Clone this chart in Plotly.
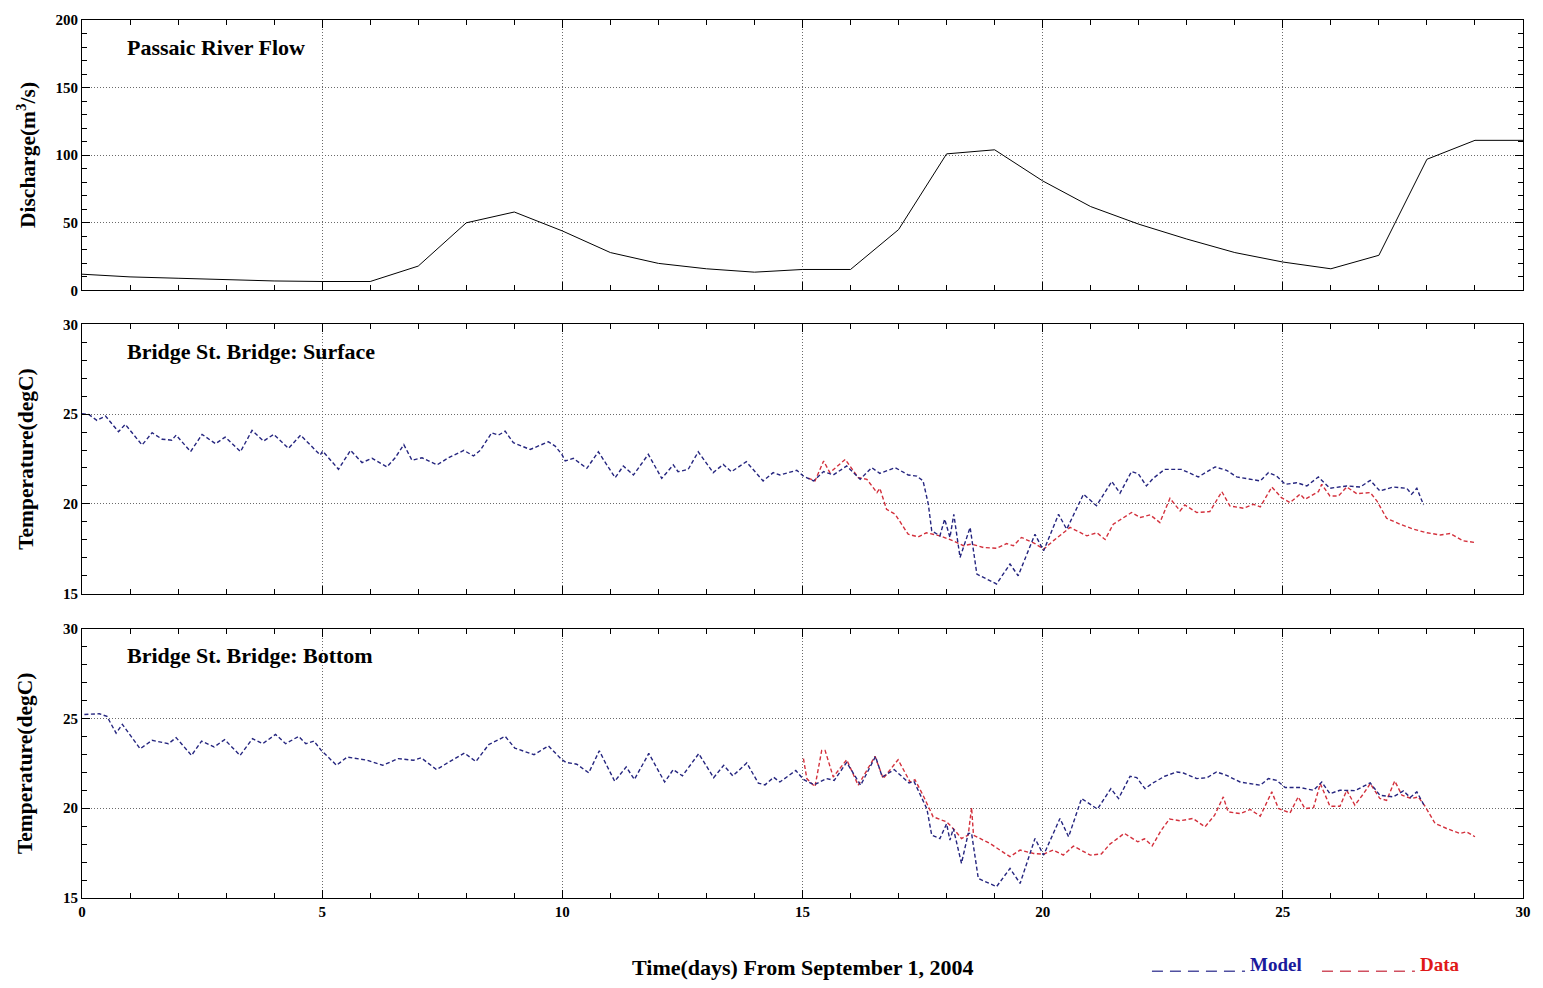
import plotly.graph_objects as go

# ---- Passaic River discharge (daily, m3/s) ----
flow_day = list(range(0, 31))
flow_q = [12, 10, 9, 7.8, 7, 6.6, 6.6, 18, 50, 58, 44, 28, 20, 16, 13.5, 15.5,
          15.5, 45, 101, 104, 81, 62, 49, 38, 28, 21, 16, 26, 97, 111, 111]

# ---- Bridge St. Bridge surface temperature ----
surf_model_day = [0.00, 0.14, 0.31, 0.49, 0.76, 0.90, 1.25, 1.46, 1.67, 1.87, 1.96, 2.26, 2.50, 2.78, 2.98,
                  3.30, 3.54, 3.78, 3.99, 4.30, 4.55, 4.96, 5.01, 5.34, 5.59, 5.83, 6.04, 6.35, 6.52, 6.70,
                  6.87, 7.08, 7.39, 7.63, 7.95, 8.15, 8.29, 8.53, 8.67, 8.81, 8.98, 9.33, 9.71, 9.85, 9.99,
                  10.06, 10.23, 10.51, 10.75, 11.10, 11.27, 11.48, 11.79, 12.07, 12.31, 12.41, 12.62, 12.83,
                  13.14, 13.35, 13.52, 13.83, 14.18, 14.39, 14.53, 14.88, 15.02, 15.23, 15.44, 15.64, 15.92,
                  16.20, 16.44, 16.61, 16.93, 17.20, 17.38, 17.51, 17.62, 17.69, 17.86, 17.96, 18.07, 18.15,
                  18.28, 18.49, 18.63, 19.04, 19.32, 19.49, 19.84, 20.02, 20.33, 20.50, 20.85, 21.12, 21.44,
                  21.61, 21.85, 21.99, 22.16, 22.30, 22.54, 22.89, 23.24, 23.59, 23.83, 24.04, 24.53, 24.70,
                  24.87, 25.05, 25.29, 25.50, 25.74, 25.98, 26.33, 26.61, 26.82, 27.02, 27.30, 27.58, 27.68,
                  27.79, 27.93]
surf_model_temp = [25.02, 24.98, 24.65, 24.89, 24.02, 24.43, 23.28, 23.96, 23.60, 23.55, 23.83, 22.91, 23.87,
                   23.35, 23.72, 22.91, 24.09, 23.50, 23.87, 23.09, 23.83, 22.72, 22.94, 21.93, 22.98, 22.30,
                   22.54, 22.06, 22.57, 23.30, 22.43, 22.57, 22.17, 22.57, 22.98, 22.67, 22.98, 23.96, 23.83,
                   24.05, 23.41, 23.03, 23.46, 23.22, 22.76, 22.39, 22.54, 21.98, 22.90, 21.46, 22.11, 21.61,
                   22.76, 21.42, 22.17, 21.79, 21.92, 22.90, 21.74, 22.20, 21.79, 22.35, 21.28, 21.74, 21.61,
                   21.87, 21.55, 21.28, 21.80, 21.61, 22.11, 21.37, 22.02, 21.70, 22.02, 21.61, 21.55, 21.28,
                   19.98, 18.50, 18.22, 19.15, 18.13, 19.42, 17.02, 18.69, 16.09, 15.54, 16.65, 16.00, 18.31,
                   17.39, 19.42, 18.59, 20.54, 19.90, 21.25, 20.60, 21.80, 21.68, 21.00, 21.42, 21.92, 21.92,
                   21.50, 22.06, 21.87, 21.50, 21.28, 21.74, 21.55, 21.09, 21.18, 21.00, 21.50, 20.87, 21.00,
                   20.94, 21.31, 20.72, 20.94, 20.87, 20.54, 20.87, 19.94]

surf_data_day = [15.12, 15.26, 15.44, 15.57, 15.89, 16.16, 16.34, 16.55, 16.61, 16.75, 16.93, 17.20, 17.41,
                 17.58, 17.86, 18.14, 18.35, 18.52, 18.77, 19.04, 19.25, 19.39, 19.56, 19.84, 20.02, 20.22,
                 20.57, 20.92, 21.13, 21.30, 21.47, 21.85, 22.03, 22.24, 22.44, 22.65, 22.86, 22.96, 23.21,
                 23.48, 23.73, 23.90, 24.18, 24.39, 24.53, 24.77, 24.97, 25.15, 25.36, 25.46, 25.74, 25.81,
                 25.98, 26.16, 26.33, 26.54, 26.82, 26.96, 27.16, 27.44, 27.72, 28.00, 28.28, 28.48, 28.76,
                 29.00]
surf_data_temp = [21.44, 21.28, 22.39, 21.74, 22.48, 21.46, 21.37, 20.63, 20.87, 19.70, 19.42, 18.31, 18.16,
                  18.39, 18.22, 17.94, 17.67, 17.76, 17.57, 17.53, 17.79, 17.67, 18.13, 17.79, 17.48, 17.94,
                  18.69, 18.22, 18.39, 18.02, 18.87, 19.52, 19.24, 19.39, 18.96, 20.31, 19.61, 19.94, 19.52,
                  19.57, 20.68, 19.88, 19.76, 19.98, 19.83, 20.94, 20.35, 20.07, 20.54, 20.26, 20.68, 21.09,
                  20.44, 20.44, 20.94, 20.57, 20.63, 20.16, 19.20, 18.87, 18.59, 18.39, 18.27, 18.35, 17.94,
                  17.85]

# ---- Bridge St. Bridge bottom temperature ----
bot_model_day = [0.05, 0.36, 0.52, 0.71, 0.84, 1.21, 1.46, 1.80, 1.96, 2.28, 2.49, 2.75, 2.97, 3.29, 3.55,
                 3.76, 4.03, 4.24, 4.51, 4.66, 4.83, 4.98, 5.30, 5.52, 5.94, 6.26, 6.58, 6.90, 7.06, 7.38,
                 7.64, 7.96, 8.20, 8.47, 8.81, 9.01, 9.41, 9.71, 9.99, 10.08, 10.30, 10.55, 10.77, 11.09,
                 11.33, 11.50, 11.80, 12.13, 12.31, 12.50, 12.84, 13.15, 13.36, 13.55, 13.84, 14.08, 14.22,
                 14.40, 14.53, 14.86, 15.02, 15.24, 15.50, 15.66, 15.92, 16.21, 16.52, 16.66, 16.91, 17.22,
                 17.32, 17.59, 17.69, 17.86, 18.00, 18.07, 18.14, 18.31, 18.45, 18.52, 18.66, 19.04, 19.32,
                 19.53, 19.84, 20.02, 20.36, 20.54, 20.81, 21.14, 21.42, 21.58, 21.82, 21.96, 22.13, 22.30,
                 22.54, 22.79, 22.93, 23.21, 23.42, 23.62, 23.83, 24.11, 24.53, 24.70, 24.87, 25.05, 25.36,
                 25.64, 25.81, 25.98, 26.19, 26.50, 26.82, 27.02, 27.30, 27.51, 27.65, 27.79, 27.96]
bot_model_temp = [25.22, 25.26, 25.11, 24.18, 24.67, 23.31, 23.78, 23.59, 23.93, 22.94, 23.74, 23.41, 23.82,
                  22.94, 23.87, 23.59, 24.11, 23.59, 24.00, 23.59, 23.74, 23.22, 22.39, 22.85, 22.67, 22.39,
                  22.76, 22.67, 22.81, 22.15, 22.57, 23.07, 22.60, 23.55, 24.00, 23.35, 22.98, 23.47, 22.70,
                  22.55, 22.45, 21.97, 23.20, 21.50, 22.30, 21.60, 23.05, 21.46, 22.15, 21.80, 23.04, 21.70,
                  22.39, 21.80, 22.52, 21.40, 21.30, 21.72, 21.46, 22.10, 21.60, 21.30, 21.65, 21.55, 22.55,
                  21.28, 22.88, 21.74, 22.15, 21.40, 21.50, 19.96, 18.50, 18.31, 19.13, 18.22, 18.87, 16.93,
                  18.59, 18.60, 16.09, 15.63, 16.65, 15.81, 18.31, 17.39, 19.43, 18.41, 20.54, 19.95, 21.09,
                  20.54, 21.78, 21.70, 21.09, 21.41, 21.78, 22.02, 21.96, 21.65, 21.70, 22.02, 21.83, 21.46,
                  21.28, 21.65, 21.55, 21.15, 21.15, 21.00, 21.46, 20.81, 21.00, 20.98, 21.41, 20.72, 20.63,
                  20.96, 20.60, 20.91, 20.07]

bot_data_day = [15.02, 15.09, 15.26, 15.40, 15.47, 15.64, 15.92, 16.16, 16.51, 16.68, 16.99, 17.24, 17.34,
                17.51, 17.72, 18.00, 18.17, 18.31, 18.45, 18.52, 18.56, 18.90, 19.32, 19.53, 19.81, 20.02,
                20.22, 20.43, 20.64, 20.99, 21.22, 21.40, 21.70, 21.98, 22.12, 22.28, 22.47, 22.64, 22.86,
                23.13, 23.38, 23.58, 23.76, 23.86, 24.11, 24.32, 24.53, 24.77, 24.91, 25.15, 25.32, 25.46,
                25.64, 25.78, 25.98, 26.19, 26.33, 26.50, 26.68, 26.82, 27.02, 27.16, 27.33, 27.48, 27.68,
                27.82, 27.96, 28.17, 28.41, 28.69, 28.82, 29.00]
bot_data_temp = [22.76, 21.65, 21.20, 23.22, 23.22, 21.74, 22.70, 21.28, 22.89, 21.65, 22.70, 21.46, 21.59,
                 20.72, 19.52, 19.24, 18.78, 18.31, 18.50, 20.04, 18.50, 18.04, 17.30, 17.67, 17.48, 17.44,
                 17.67, 17.39, 17.89, 17.39, 17.45, 18.00, 18.60, 18.13, 18.30, 17.90, 18.78, 19.40, 19.30,
                 19.43, 18.96, 19.61, 20.63, 19.80, 19.70, 19.93, 19.56, 20.91, 19.98, 19.74, 20.63, 19.98,
                 20.04, 21.37, 20.11, 20.11, 21.00, 20.17, 20.81, 21.37, 20.54, 20.44, 21.52, 20.72, 20.54,
                 20.63, 20.11, 19.15, 18.87, 18.59, 18.69, 18.41]

x_ticks = [0, 5, 10, 15, 20, 25, 30]
panel_titles = ["Passaic River Flow", "Bridge St. Bridge: Surface", "Bridge St. Bridge: Bottom"]
y_titles = ["Discharge(m<sup>3</sup>/s)", "Temperature(degC)", "Temperature(degC)"]

MODEL_COLOR = "#25257f"
DATA_COLOR = "#d3303c"
SERIF = "Liberation Serif"
DASH = "4px,2.5px"
GRID = dict(showgrid=True, gridcolor="#6a6a6a", griddash="1px,2px", gridwidth=1, zeroline=False)

fig = go.Figure()

fig.add_trace(go.Scatter(x=flow_day, y=flow_q, mode="lines", xaxis="x", yaxis="y",
                         line=dict(color="black", width=1), showlegend=False))

for xa, ya, md, mt, dd, dt in [("x2", "y2", surf_model_day, surf_model_temp, surf_data_day, surf_data_temp),
                               ("x3", "y3", bot_model_day, bot_model_temp, bot_data_day, bot_data_temp)]:
    fig.add_trace(go.Scatter(x=dd, y=dt, mode="lines", xaxis=xa, yaxis=ya,
                             line=dict(color=DATA_COLOR, width=1.4, dash=DASH), showlegend=False))
    fig.add_trace(go.Scatter(x=md, y=mt, mode="lines", xaxis=xa, yaxis=ya,
                             line=dict(color=MODEL_COLOR, width=1.4, dash=DASH), showlegend=False))

tick_font = dict(family=SERIF, size=15, color="black", weight="bold")

def x_axis(anchor, labels):
    return dict(domain=[0, 1], anchor=anchor, range=[0, 30], tickvals=x_ticks,
                showticklabels=labels, tickfont=tick_font,
                ticks="inside", ticklen=8, tickwidth=1, tickcolor="black",
                minor=dict(dtick=1, ticks="inside", ticklen=5, tickcolor="black", showgrid=False),
                showline=True, linecolor="black", linewidth=1, mirror="allticks", **GRID)

def y_axis(anchor, domain, rng, dtick, minor_dtick):
    return dict(domain=domain, anchor=anchor, range=rng, dtick=dtick, tick0=rng[0],
                tickfont=tick_font, ticks="inside", ticklen=8, tickwidth=1, tickcolor="black",
                minor=dict(dtick=minor_dtick, ticks="inside", ticklen=5, tickcolor="black", showgrid=False),
                showline=True, linecolor="black", linewidth=1, mirror="allticks", **GRID)

annotations = []
for i, (t, yt) in enumerate(zip(panel_titles, y_titles)):
    suffix = "" if i == 0 else str(i + 1)
    annotations.append(dict(text=f"<b>{t}</b>", xref=f"x{suffix} domain", yref=f"y{suffix} domain",
                            x=0.03, y=0.9, xanchor="left", yanchor="middle", showarrow=False,
                            font=dict(family=SERIF, size=22, color="black")))
    annotations.append(dict(text=f"<b>{yt}</b>", xref="paper", yref=f"y{suffix} domain",
                            x=-0.039, y=0.5, xanchor="center", yanchor="middle", textangle=-90,
                            showarrow=False, font=dict(family=SERIF, size=21.5, color="black")))

annotations.append(dict(text="<b>Time(days) From September 1, 2004</b>", xref="paper", yref="paper",
                        x=0.5003, y=-0.0795, xanchor="center", yanchor="middle", showarrow=False,
                        font=dict(family=SERIF, size=22, color="black")))
annotations.append(dict(text="<b>Model</b>", xref="paper", yref="paper", x=0.8092, y=-0.0755,
                        xanchor="left", yanchor="middle", showarrow=False,
                        font=dict(family=SERIF, size=19, color="#1a1a9c")))
annotations.append(dict(text="<b>Data</b>", xref="paper", yref="paper", x=0.9271, y=-0.0755,
                        xanchor="left", yanchor="middle", showarrow=False,
                        font=dict(family=SERIF, size=19, color="#e01818")))

shapes = [
    dict(type="line", xref="paper", yref="paper", x0=0.7425, x1=0.8071, y0=-0.0835, y1=-0.0835,
         line=dict(color="#5050a0", width=1.6, dash="11px,7px")),
    dict(type="line", xref="paper", yref="paper", x0=0.8605, x1=0.925, y0=-0.0835, y1=-0.0835,
         line=dict(color="#d05060", width=1.6, dash="11px,7px")),
]

fig.update_layout(
    width=1543, height=988,
    margin=dict(l=82, r=20, t=18, b=90),
    paper_bgcolor="white", plot_bgcolor="white",
    showlegend=False,
    xaxis=x_axis("y", False),
    xaxis2=x_axis("y2", False),
    xaxis3=x_axis("y3", True),
    yaxis=y_axis("x", [0.692, 1.0], [0, 200], 50, 10),
    yaxis2=y_axis("x2", [0.3466, 0.6534], [15, 30], 5, 1),
    yaxis3=y_axis("x3", [0.0, 0.3068], [15, 30], 5, 1),
    annotations=annotations,
    shapes=shapes,
)

fig.write_html("out.html")
